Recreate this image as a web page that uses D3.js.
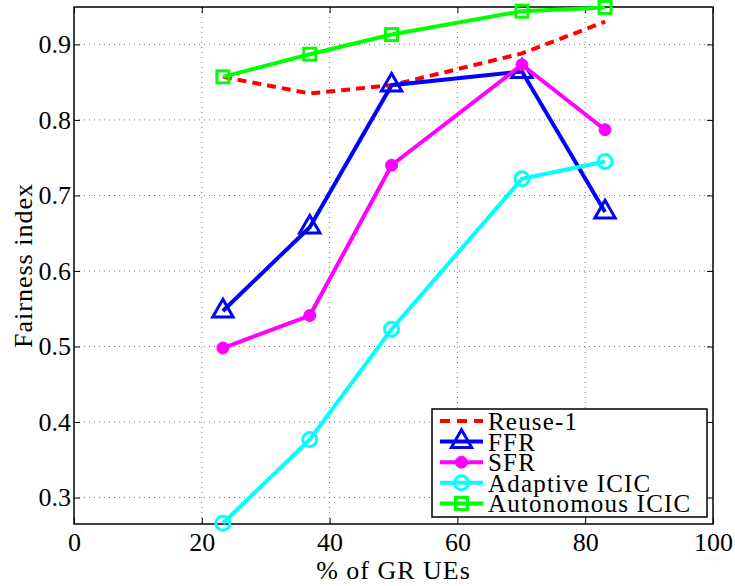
<!DOCTYPE html>
<html>
<head>
<meta charset="utf-8">
<script src="https://cdn.jsdelivr.net/npm/d3@7"></script>
<style>
  body { margin: 0; background: #fff; }
  svg text { font-family: "Liberation Serif", "DejaVu Serif", serif; fill: #000; }
</style>
</head>
<body>
<div id="chart"></div>
<script>
// x positions (% of GR UEs)
const grShare = [23.3, 36.9, 49.7, 70.1, 83.1];

const reuse1 = [0.857, 0.835, 0.846, 0.888, 0.930];
const ffr = [0.547, 0.658, 0.846, 0.864, 0.678];
const sfr = [0.498, 0.541, 0.740, 0.873, 0.787];
const adaptiveIcic = [0.266, 0.377, 0.523, 0.722, 0.745];
const autonomousIcic = [0.857, 0.887, 0.913, 0.944, 0.949];

const xTicks = [0, 20, 40, 60, 80, 100];
const yTicks = [0.3, 0.4, 0.5, 0.6, 0.7, 0.8, 0.9];

const seriesList = [
  { name: "Reuse-1", values: reuse1, color: "#ff0000", dash: "9,6", marker: "none" },
  { name: "FFR", values: ffr, color: "#0000ff", dash: null, marker: "triangle" },
  { name: "SFR", values: sfr, color: "#ff00ff", dash: null, marker: "dot" },
  { name: "Adaptive ICIC", values: adaptiveIcic, color: "#00ffff", dash: null, marker: "circle" },
  { name: "Autonomous ICIC", values: autonomousIcic, color: "#00ff00", dash: null, marker: "square" }
];

const width = 735, height = 586;
const margin = { top: 7, right: 22, bottom: 62, left: 74 };
const innerW = width - margin.left - margin.right;
const innerH = height - margin.top - margin.bottom;

const svg = d3.select("#chart").append("svg")
  .attr("width", width)
  .attr("height", height);

const g = svg.append("g")
  .attr("transform", `translate(${margin.left},${margin.top})`);

const x = d3.scaleLinear().domain([0, 100]).range([0, innerW]);
const y = d3.scaleLinear().domain([0.265, 0.9495]).range([innerH, 0]);

// grid
g.append("g").selectAll("line")
  .data(xTicks.slice(1, -1))
  .join("line")
  .attr("x1", d => x(d)).attr("x2", d => x(d))
  .attr("y1", 0).attr("y2", innerH)
  .attr("stroke", "#777").attr("stroke-width", 1)
  .attr("stroke-dasharray", "1,4");

g.append("g").selectAll("line")
  .data(yTicks)
  .join("line")
  .attr("x1", 0).attr("x2", innerW)
  .attr("y1", d => y(d)).attr("y2", d => y(d))
  .attr("stroke", "#777").attr("stroke-width", 1)
  .attr("stroke-dasharray", "1,4");

// axes (ticks inside, MATLAB style)
const tickLen = 6;
g.append("g")
  .attr("transform", `translate(0,${innerH})`)
  .call(d3.axisBottom(x).tickValues(xTicks).tickSize(-tickLen).tickPadding(9));
g.append("g")
  .call(d3.axisLeft(y).tickValues(yTicks).tickSize(-tickLen).tickPadding(3).tickFormat(d3.format(".1f")));
g.append("g")
  .call(d3.axisTop(x).tickValues(xTicks).tickSize(-tickLen).tickFormat(""));
g.append("g")
  .attr("transform", `translate(${innerW},0)`)
  .call(d3.axisRight(y).tickValues(yTicks).tickSize(-tickLen).tickFormat(""));

g.selectAll(".domain").remove();
g.selectAll(".tick line").attr("stroke", "#000").attr("stroke-width", 1);
g.selectAll(".tick text")
  .attr("font-size", 26)
  .attr("font-family", "Liberation Serif, serif");

g.append("rect")
  .attr("width", innerW).attr("height", innerH)
  .attr("fill", "none").attr("stroke", "#000").attr("stroke-width", 1.5);

// axis titles
svg.append("text")
  .attr("x", margin.left + innerW / 2)
  .attr("y", 579)
  .attr("text-anchor", "middle")
  .attr("font-size", 26)
  .attr("letter-spacing", 1)
  .text("% of GR UEs");

svg.append("text")
  .attr("transform", `translate(32,${margin.top + innerH / 2}) rotate(-90)`)
  .attr("text-anchor", "middle")
  .attr("font-size", 26)
  .attr("letter-spacing", 1)
  .text("Fairness index");

// markers
const drawMarker = (sel, type, color) => {
  if (type === "triangle") {
    sel.append("path")
      .attr("d", d3.symbol().type(d3.symbolTriangle).size(180)())
      .attr("fill", "none").attr("stroke", color).attr("stroke-width", 3);
  } else if (type === "dot") {
    sel.append("circle").attr("r", 6).attr("fill", color).attr("stroke", color);
  } else if (type === "circle") {
    sel.append("circle").attr("r", 7).attr("fill", "none").attr("stroke", color).attr("stroke-width", 3);
  } else if (type === "square") {
    sel.append("rect").attr("x", -6).attr("y", -6).attr("width", 12).attr("height", 12)
      .attr("fill", "none").attr("stroke", color).attr("stroke-width", 3);
  }
};

const line = d3.line()
  .x((d, i) => x(grShare[i]))
  .y(d => y(d));

const plot = svg.append("g").attr("transform", `translate(${margin.left},${margin.top})`);

// draw in plotting order (first series at bottom)
seriesList.forEach(s => {
  plot.append("path")
    .datum(s.values)
    .attr("d", line)
    .attr("fill", "none")
    .attr("stroke", s.color)
    .attr("stroke-width", 4)
    .attr("stroke-dasharray", s.dash);
  if (s.marker !== "none") {
    s.values.forEach((v, i) => {
      const m = plot.append("g").attr("transform", `translate(${x(grShare[i])},${y(v)})`);
      drawMarker(m, s.marker, s.color);
    });
  }
});

// legend
const lx = 432, ly = 409, lw = 275, lh = 108;
const legend = svg.append("g");
legend.append("rect")
  .attr("x", lx).attr("y", ly).attr("width", lw).attr("height", lh)
  .attr("fill", "#fff").attr("stroke", "#000").attr("stroke-width", 1.5);

seriesList.forEach((s, i) => {
  const rowY = ly + 12 + i * 20.6;
  legend.append("line")
    .attr("x1", lx + 8).attr("x2", lx + 51)
    .attr("y1", rowY).attr("y2", rowY)
    .attr("stroke", s.color).attr("stroke-width", 4)
    .attr("stroke-dasharray", s.dash ? "10,7" : null);
  if (s.marker !== "none") {
    const m = legend.append("g").attr("transform", `translate(${lx + 29.5},${rowY})`);
    drawMarker(m, s.marker, s.color);
  }
  legend.append("text")
    .attr("x", lx + 56)
    .attr("y", rowY + 9)
    .attr("font-size", 25)
    .attr("letter-spacing", 1.2)
    .text(s.name);
});
</script>
</body>
</html>
